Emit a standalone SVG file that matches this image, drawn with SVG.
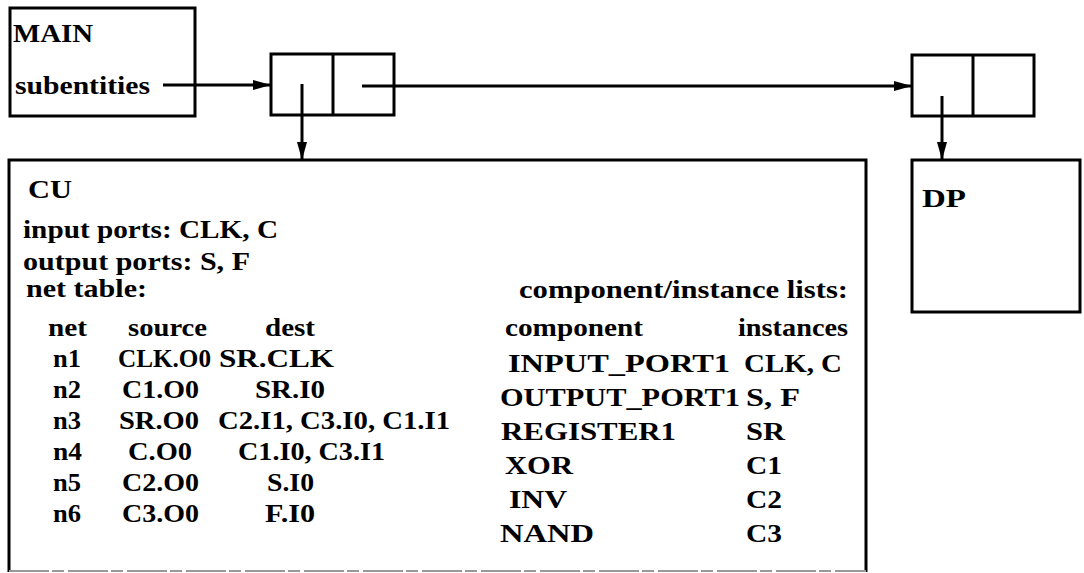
<svg xmlns="http://www.w3.org/2000/svg" width="1084" height="573" viewBox="0 0 1084 573">
<defs>
<marker id="ah" markerWidth="18" markerHeight="10" refX="18" refY="5" orient="auto" markerUnits="userSpaceOnUse">
<path d="M0,0 L18,5 L0,10 Z" fill="#000"/>
</marker>
<style>
.box{fill:#fff;stroke:#000;stroke-width:3}
.ln{stroke:#000;stroke-width:3;fill:none}
.con{stroke:#000;stroke-width:3;fill:none;marker-end:url(#ah)}
text{font-family:"Liberation Serif","DejaVu Serif",serif;font-weight:bold;fill:#000;font-size:25px}
.h{font-size:26px}
</style>
</defs>
<rect width="1084" height="573" fill="#fff"/>
<g id="main">
<rect class="box" x="10" y="8" width="185" height="108"/>
<text class="h" x="13" y="42" textLength="80" lengthAdjust="spacingAndGlyphs">MAIN</text>
<text x="15" y="94" textLength="135" lengthAdjust="spacingAndGlyphs">subentities</text>
</g>
<g id="cell1">
<rect class="box" x="271" y="54" width="123" height="61"/>
<line class="ln" x1="333" y1="54" x2="333" y2="115"/>
</g>
<g id="cell2">
<rect class="box" x="912" y="55" width="122" height="61"/>
<line class="ln" x1="973" y1="55" x2="973" y2="116"/>
</g>
<g id="cu">
<path class="ln" d="M9,572 L9,160 L866,160 L866,572"/>
<line x1="9" y1="571" x2="866" y2="571" stroke="#999" stroke-width="2" stroke-dasharray="40 3 12 4"/>
<text class="h" x="28" y="198" textLength="44" lengthAdjust="spacingAndGlyphs">CU</text>
<text x="23" y="238" textLength="255" lengthAdjust="spacingAndGlyphs">input ports: CLK, C</text>
<text x="23" y="270" textLength="227" lengthAdjust="spacingAndGlyphs">output ports: S, F</text>
<text x="26" y="297" textLength="121" lengthAdjust="spacingAndGlyphs">net table:</text>
<text x="48" y="336" textLength="39" lengthAdjust="spacingAndGlyphs">net</text>
<text x="128" y="336" textLength="79" lengthAdjust="spacingAndGlyphs">source</text>
<text x="265" y="336" textLength="50" lengthAdjust="spacingAndGlyphs">dest</text>
<text x="53" y="367" textLength="28" lengthAdjust="spacingAndGlyphs">n1</text>
<text x="118" y="367" textLength="93" lengthAdjust="spacingAndGlyphs">CLK.O0</text>
<text x="219" y="367" textLength="115" lengthAdjust="spacingAndGlyphs">SR.CLK</text>
<text x="53" y="398" textLength="28" lengthAdjust="spacingAndGlyphs">n2</text>
<text x="122" y="398" textLength="77" lengthAdjust="spacingAndGlyphs">C1.O0</text>
<text x="255" y="398" textLength="70" lengthAdjust="spacingAndGlyphs">SR.I0</text>
<text x="53" y="429" textLength="28" lengthAdjust="spacingAndGlyphs">n3</text>
<text x="119" y="429" textLength="80" lengthAdjust="spacingAndGlyphs">SR.O0</text>
<text x="218" y="429" textLength="232" lengthAdjust="spacingAndGlyphs">C2.I1, C3.I0, C1.I1</text>
<text x="53" y="460" textLength="29" lengthAdjust="spacingAndGlyphs">n4</text>
<text x="128" y="460" textLength="64" lengthAdjust="spacingAndGlyphs">C.O0</text>
<text x="238" y="460" textLength="147" lengthAdjust="spacingAndGlyphs">C1.I0, C3.I1</text>
<text x="53" y="491" textLength="28" lengthAdjust="spacingAndGlyphs">n5</text>
<text x="122" y="491" textLength="77" lengthAdjust="spacingAndGlyphs">C2.O0</text>
<text x="267" y="491" textLength="47" lengthAdjust="spacingAndGlyphs">S.I0</text>
<text x="53" y="522" textLength="28" lengthAdjust="spacingAndGlyphs">n6</text>
<text x="122" y="522" textLength="77" lengthAdjust="spacingAndGlyphs">C3.O0</text>
<text x="265" y="522" textLength="50" lengthAdjust="spacingAndGlyphs">F.I0</text>
<text x="519" y="298" textLength="329" lengthAdjust="spacingAndGlyphs">component/instance lists:</text>
<text x="505" y="336" textLength="138" lengthAdjust="spacingAndGlyphs">component</text>
<text x="738" y="336" textLength="110" lengthAdjust="spacingAndGlyphs">instances</text>
<text x="508" y="372" textLength="222" lengthAdjust="spacingAndGlyphs">INPUT_PORT1</text>
<text x="744" y="372" textLength="98" lengthAdjust="spacingAndGlyphs">CLK, C</text>
<text x="500" y="406" textLength="240" lengthAdjust="spacingAndGlyphs">OUTPUT_PORT1</text>
<text x="746" y="406" textLength="54" lengthAdjust="spacingAndGlyphs">S, F</text>
<text x="501" y="440" textLength="175" lengthAdjust="spacingAndGlyphs">REGISTER1</text>
<text x="746" y="440" textLength="39" lengthAdjust="spacingAndGlyphs">SR</text>
<text x="505" y="474" textLength="68" lengthAdjust="spacingAndGlyphs">XOR</text>
<text x="746" y="474" textLength="36" lengthAdjust="spacingAndGlyphs">C1</text>
<text x="509" y="508" textLength="58" lengthAdjust="spacingAndGlyphs">INV</text>
<text x="746" y="508" textLength="36" lengthAdjust="spacingAndGlyphs">C2</text>
<text x="500" y="542" textLength="94" lengthAdjust="spacingAndGlyphs">NAND</text>
<text x="746" y="542" textLength="36" lengthAdjust="spacingAndGlyphs">C3</text>
</g>
<g id="dp">
<rect class="box" x="912" y="160" width="168" height="152"/>
<text class="h" x="922" y="207" textLength="44" lengthAdjust="spacingAndGlyphs">DP</text>
</g>
<g id="connectors">
<line class="con" x1="163" y1="85" x2="271" y2="85"/>
<line class="con" x1="362" y1="86" x2="912" y2="86"/>
<line class="con" x1="302" y1="84" x2="302" y2="160"/>
<line class="con" x1="942" y1="96" x2="942" y2="160"/>
</g>
</svg>
